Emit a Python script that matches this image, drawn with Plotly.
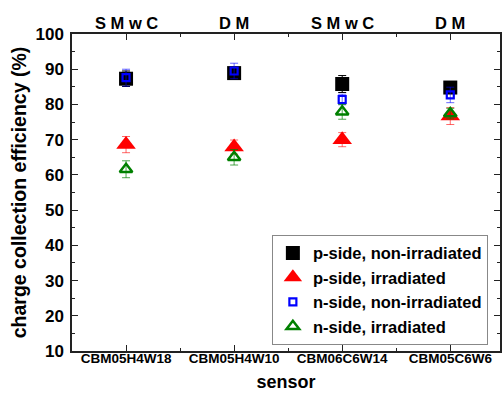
import plotly.graph_objects as go

sensors = ["CBM05H4W18", "CBM05H4W10", "CBM06C6W14", "CBM05C6W6"]
top_labels = ["S M w C", "D M", "S M w C", "D M"]

p_nonirr = [87.3, 88.9, 85.8, 84.8]
p_nonirr_err = [2.2, 1.6, 2.4, 1.4]
p_irr = [68.6, 67.9, 70.0, 76.7]
p_irr_err = [2.3, 2.0, 2.0, 2.4]
n_nonirr = [87.6, 89.5, 81.4, 82.7]
n_nonirr_err = [2.4, 2.2, 1.5, 2.2]
n_irr = [61.6, 65.0, 77.9, 77.4]
n_irr_err = [2.4, 2.2, 2.1, 1.5]

xs = list(range(len(sensors)))
FONT = "Arial, Liberation Sans, sans-serif"

fig = go.Figure()
fig.add_trace(go.Scatter(
    x=xs, y=p_nonirr, mode="markers", name="p-side, non-irradiated",
    marker=dict(symbol="square", size=14, color="black"),
    error_y=dict(type="data", array=p_nonirr_err, color="black", thickness=1, width=4)))
fig.add_trace(go.Scatter(
    x=xs, y=p_irr, mode="markers", name="p-side, irradiated",
    marker=dict(symbol="triangle-up", size=17, color="#ff0000"),
    error_y=dict(type="data", array=p_irr_err, color="rgba(255,0,0,0.6)", thickness=1, width=4)))
fig.add_trace(go.Scatter(
    x=xs, y=n_nonirr, mode="markers", name="n-side, non-irradiated",
    marker=dict(symbol="square-open", size=7, color="#0000ff", line=dict(width=2.2, color="#0000ff")),
    error_y=dict(type="data", array=n_nonirr_err, color="rgba(0,0,255,0.6)", thickness=1, width=4)))
fig.add_trace(go.Scatter(
    x=xs, y=n_irr, mode="markers", name="n-side, irradiated",
    marker=dict(symbol="triangle-up-open", size=11, color="#008000", line=dict(width=2.5, color="#008000")),
    error_y=dict(type="data", array=n_irr_err, color="rgba(0,128,0,0.7)", thickness=1, width=4)))

for i, t in enumerate(top_labels):
    fig.add_annotation(x=i, y=1.036, xref="x", yref="paper", text=t, showarrow=False,
                       font=dict(family=FONT, size=16.5, color="black", weight="bold"),
                       yanchor="middle", xanchor="center")

axis_common = dict(showline=True, linecolor="#222", linewidth=1.5, mirror="allticks",
                   ticks="inside", ticklen=6, tickwidth=1.2, tickcolor="#222",
                   showgrid=False, zeroline=False)

fig.update_layout(
    width=502, height=397,
    margin=dict(l=72, r=0, t=34, b=46),
    paper_bgcolor="white", plot_bgcolor="white",
    font=dict(family=FONT, color="black", weight="bold"),
    xaxis=dict(range=[-0.5, 3.46], tickvals=xs, ticktext=sensors,
               tickfont=dict(size=13.5, weight="bold"), ticklabelstandoff=-6,
               title=dict(text="sensor", font=dict(size=18, weight="bold"), standoff=10),
               minor=dict(dtick=0.5, tick0=0, ticks="inside", ticklen=3, tickcolor="#222"),
               **axis_common),
    yaxis=dict(range=[10, 100], dtick=10, tick0=10,
               tickfont=dict(size=17, weight="bold"), ticklabelstandoff=3,
               title=dict(text="charge collection efficiency (%)", font=dict(size=19.5, weight="bold"), standoff=4),
               minor=dict(dtick=5, tick0=0, ticks="inside", ticklen=3, tickcolor="#222"),
               **axis_common),
    legend=dict(x=0.467, y=0.02, xanchor="left", yanchor="bottom",
                bgcolor="white", bordercolor="#888", borderwidth=1,
                font=dict(size=16.5, weight="bold"), tracegroupgap=0, itemsizing="trace"),
    showlegend=True,
)

fig.write_html("out.html")
